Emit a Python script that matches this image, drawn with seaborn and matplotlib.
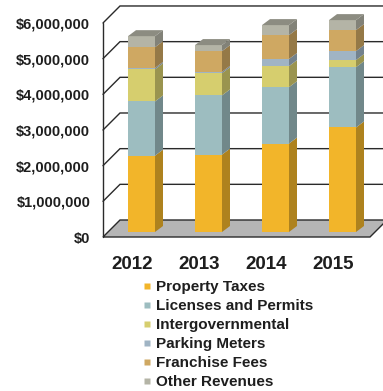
import numpy as np
import pandas as pd
import seaborn as sns
import matplotlib.pyplot as plt
from matplotlib.patches import Polygon
from matplotlib.lines import Line2D
from matplotlib.transforms import ScaledTranslation
import matplotlib.colors as mcolors

# Revenue by source, in dollars
years = ["2012", "2013", "2014", "2015"]
property_taxes = [2140000, 2170000, 2480000, 2930000]
licenses_permits = [1520000, 1660000, 1580000, 1690000]
intergovernmental = [900000, 620000, 590000, 200000]
parking_meters = [40000, 40000, 200000, 250000]
franchise_fees = [580000, 580000, 670000, 590000]
other_revenues = [310000, 170000, 280000, 280000]

sources = ["Property Taxes", "Licenses and Permits", "Intergovernmental",
           "Parking Meters", "Franchise Fees", "Other Revenues"]
values = [property_taxes, licenses_permits, intergovernmental,
          parking_meters, franchise_fees, other_revenues]
colors = ["#F2B52A", "#9DBDC0", "#D6CE6E", "#A0B4C4", "#CFA862", "#B4B4A6"]

sns.set_style("white")
plt.rcParams["font.family"] = ["Liberation Sans", "DejaVu Sans"]
plt.rcParams["font.weight"] = "bold"

fig = plt.figure(figsize=(3.83, 3.91), dpi=100)
ax = fig.add_axes([100 / 383, 1 - 245 / 391, 283 / 383, 245 / 391])

px_x = 67.0            # pixels per category step
px_y = 35.67 / 1e6     # pixels per dollar
x0 = -(141.5 - 100) / px_x
x1 = (383 - 141.5) / px_x


def dx(p):
    return p / px_x


def dy(p):
    return p / px_y


# stacked bars: draw cumulative totals from the top layer down
cum = np.cumsum(np.array(values, dtype=float), axis=0)
bar_w = 27 / px_x
for i in range(len(sources) - 1, -1, -1):
    df = pd.DataFrame({"year": years, "total": cum[i]})
    sns.barplot(data=df, x="year", y="total", color=colors[i], saturation=1,
                width=bar_w, errorbar=None, ax=ax, zorder=3, linewidth=0)

ax.set_xlim(x0, x1)
ax.set_ylim(-(245 - 232) / px_y, 232 / px_y)

# walls and floor
front_left = -(141.5 - 103) / px_x
back_left = front_left + dx(17)
floor_front_right = (370 - 141.5) / px_x
ax.add_patch(Polygon([(front_left, -dy(5)), (back_left, dy(12)),
                      (floor_front_right + dx(17), dy(12)), (floor_front_right, -dy(5))],
                     closed=True, facecolor="#B5B5B5", edgecolor="#2a2a2a", lw=1.0, zorder=1))
ax.plot([front_left, front_left], [-dy(5), 6e6 - dy(5)], color="#2a2a2a", lw=1.0, zorder=1)
for v in range(1, 7):
    level = v * 1e6
    ax.plot([front_left, back_left, x1], [level - dy(5), level + dy(12), level + dy(12)],
            color="#2a2a2a", lw=1.0, zorder=1, solid_joinstyle="miter")

# side and top faces for the depth effect
sx, sy = dx(8), dy(6)
for j in range(len(years)):
    right = j + bar_w / 2
    left = j - bar_w / 2
    bottom = 0.0
    for i in range(len(sources)):
        top = cum[i][j]
        side = tuple(c * 0.72 for c in mcolors.to_rgb(colors[i]))
        ax.add_patch(Polygon([(right, bottom), (right + sx, bottom + sy),
                              (right + sx, top + sy), (right, top)],
                             closed=True, facecolor=side, edgecolor="none", zorder=3))
        bottom = top
    top_c = tuple(c * 0.78 for c in mcolors.to_rgb(colors[-1]))
    ax.add_patch(Polygon([(left, bottom), (left + sx, bottom + sy),
                          (right + sx, bottom + sy), (right, bottom)],
                         closed=True, facecolor=top_c, edgecolor="none", zorder=3))

# axes text
ax.set_yticks([v * 1e6 for v in range(7)])
ax.set_yticklabels(["$0", "$1,000,000", "$2,000,000", "$3,000,000", "$4,000,000",
                    "$5,000,000", "$6,000,000"], fontsize=10.5, fontweight="bold", color="#1e1e1e")
ax.tick_params(axis="y", length=0, pad=7)
for lab in ax.get_yticklabels():
    lab.set_transform(lab.get_transform() + ScaledTranslation(0, -5 / 100, fig.dpi_scale_trans))
ax.set_xticks(range(len(years)))
ax.set_xticklabels(years, fontsize=13.5, fontweight="bold", color="#1e1e1e")
ax.tick_params(axis="x", length=0, pad=8)
for lab in ax.get_xticklabels():
    lab.set_transform(lab.get_transform() + ScaledTranslation(-9 / 100, 0, fig.dpi_scale_trans))
ax.set_xlabel("")
ax.set_ylabel("")
for s in ax.spines.values():
    s.set_visible(False)

handles = [Line2D([], [], marker="s", linestyle="none", markersize=5,
                  markerfacecolor=c, markeredgecolor="none") for c in colors]
fig.legend(handles, sources, loc="upper left", bbox_to_anchor=(142 / 383, 1 - 280 / 391),
           frameon=False, prop={"size": 11, "weight": "bold"}, labelcolor="#1e1e1e",
           handlelength=0.6, handletextpad=0.3, labelspacing=0.33, borderpad=0, borderaxespad=0)

fig.savefig("out.png", dpi=100)
